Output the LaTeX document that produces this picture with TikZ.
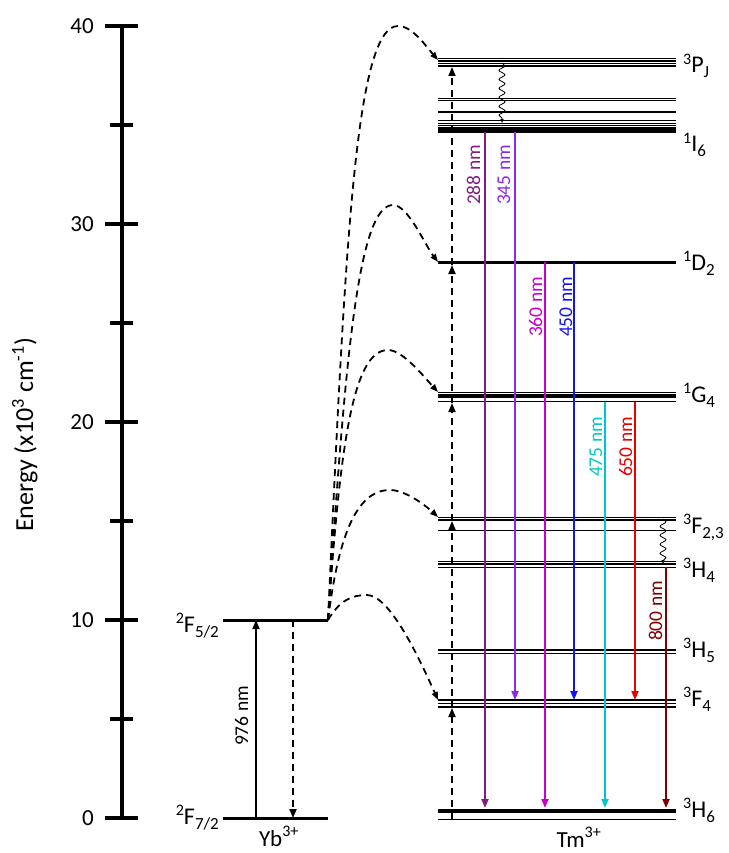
\documentclass[tikz,border=0pt]{standalone}
\usepackage{fontspec}
\setmainfont{Carlito}
\usetikzlibrary{arrows.meta,decorations.pathmorphing}
\definecolor{c288}{RGB}{128,30,128}
\definecolor{c345}{RGB}{140,40,235}
\definecolor{c360}{RGB}{200,0,200}
\definecolor{c450}{RGB}{20,20,240}
\definecolor{c475}{RGB}{0,200,200}
\definecolor{c650}{RGB}{230,0,0}
\definecolor{c800}{RGB}{128,0,0}
\newcommand{\supx}[1]{\raisebox{8.5pt}{\fontsize{16}{16}\selectfont #1}}
\newcommand{\subx}[1]{\raisebox{-5pt}{\fontsize{17}{17}\selectfont #1}}
\tikzset{
 axisline/.style={line width=4pt},
 lev/.style={line width=1.1pt},
 ybl/.style={line width=3pt},
 em/.style={line width=2pt,-{Triangle[length=9pt,width=7pt]}},
 esa/.style={line width=1.8pt,dash pattern=on 7pt off 5pt,-{Triangle[length=9pt,width=7pt]}},
 et/.style={line width=1.8pt,dash pattern=on 7pt off 5pt,-{Triangle[length=8pt,width=6pt]}},
 wavy/.style={line width=0.8pt,decorate,decoration={snake,amplitude=3pt,segment length=9pt,post length=3pt},-{Triangle[length=4pt,width=3pt]}},
 wl/.style={font=\fontsize{19.5}{20}\selectfont,rotate=90,anchor=base,inner sep=0pt},
 lvl/.style={font=\fontsize{24}{24}\selectfont,anchor=base west,inner sep=0pt},
 ticklab/.style={font=\fontsize{23}{24}\selectfont,anchor=east,inner sep=0pt},
}
\begin{document}
\begin{tikzpicture}[x=1pt,y=-1pt]
\useasboundingbox (0,0) rectangle (728,853);
% ---------- axis ----------
\coordinate (axT) at (122,26);
\coordinate (axB) at (122,818);
\draw[axisline] (axT) -- (axB);
\foreach \v/\y in {40/26,30/224,20/422,10/620,0/818}{
  \draw[axisline] (105,\y) -- (138,\y);
  \node[ticklab] (t\v) at (94,\y) {\v};
}
\foreach \y in {125,323,521,719}{
  \draw[axisline] (110,\y) -- (133,\y);
}
\node[font=\fontsize{26}{27}\selectfont,rotate=90,anchor=base,inner sep=0pt] (elab) at (33,435) {Energy (x10\textsuperscript{3} cm\textsuperscript{-1})};
% ---------- Yb levels ----------
\coordinate (Yb5l) at (223,620); \coordinate (Yb5r) at (328,620);
\coordinate (Yb7l) at (223,818); \coordinate (Yb7r) at (328,818);
\draw[ybl] (Yb5l) -- (Yb5r);
\draw[ybl] (Yb7l) -- (Yb7r);
\node[lvl,anchor=base east] (lYb5) at (219,632) {\supx{2}F\subx{5/2}};
\node[lvl,anchor=base east] (lYb7) at (219,824) {\supx{2}F\subx{7/2}};
\node[font=\fontsize{23}{24}\selectfont,anchor=base,inner sep=0pt] (Yb) at (279,846) {Yb\textsuperscript{3+}};
\coordinate (xa) at (256,0); \coordinate (xb) at (293,0);
\draw[line width=1.8pt,-{Triangle[length=9pt,width=7pt]}] (xa |- Yb7l) -- (xa |- Yb5l);
\draw[esa] (xb |- Yb5l) -- (xb |- Yb7l);
\node[wl] (l976) at (248,716) {976 nm};
% ---------- Tm levels ----------
\foreach \y in {58.8,61,63.2,66, 98.3,100.7,112, 120.7,123.3,125.7,128,130,132, 392.7,395,397,401.7, 517.5,520,530.7, 561.7,564,567.3, 650,653.5, 700,703.3,707, 819.3}{
  \draw[lev] (438,\y) -- (676,\y);
}
\draw[line width=3pt] (438,262.7) -- (676,262.7);
\draw[line width=4pt] (438,810.7) -- (676,810.7);
\coordinate (PJ) at (438,59);
\coordinate (I6) at (438,132);
\coordinate (D2) at (438,262);
\coordinate (G4) at (438,392);
\coordinate (G4b) at (438,402);
\coordinate (F23) at (438,517);
\coordinate (H4b) at (438,567);
\coordinate (F4) at (438,700);
\coordinate (H6) at (438,808);
\node[lvl] (lPJ) at (683,73) {\supx{3}P\subx{J}};
\node[lvl] (lI6) at (683,152) {\supx{1}I\subx{6}};
\node[lvl] (lD2) at (683,270) {\supx{1}D\subx{2}};
\node[lvl] (lG4) at (683,402) {\supx{1}G\subx{4}};
\node[lvl] (lF23) at (683,533) {\supx{3}F\subx{2,3}};
\node[lvl] (lH4) at (683,577) {\supx{3}H\subx{4}};
\node[lvl] (lH5) at (683,657) {\supx{3}H\subx{5}};
\node[lvl] (lF4) at (683,706) {\supx{3}F\subx{4}};
\node[lvl] (lH6) at (683,817) {\supx{3}H\subx{6}};
\node[font=\fontsize{23}{24}\selectfont,anchor=base,inner sep=0pt] (Tm) at (579,847) {Tm\textsuperscript{3+}};
% ---------- ESA dashed arrows ----------
\coordinate (s0) at (452,819);
\coordinate (s1) at (452,708);
\coordinate (s2) at (452,521);
\coordinate (s3) at (452,403);
\coordinate (s4) at (452,265);
\coordinate (s5) at (452,67);
\draw[esa] (s0) -- (s1);
\draw[esa] (s1) -- (s2);
\draw[esa] (s2) -- (s3);
\draw[esa] (s3) -- (s4);
\draw[esa] (s4) -- (s5);
% ---------- energy transfer curves ----------
\coordinate (p1) at (398,26);
\coordinate (p2) at (393,205);
\coordinate (p3) at (388,350);
\coordinate (p4) at (390,490);
\coordinate (p5) at (367,595);
\coordinate (e1) at (438,60);
\coordinate (e2) at (438,262);
\coordinate (e3) at (438,392);
\coordinate (e4) at (438,517);
\coordinate (e5) at (438,700);
\draw[et] (Yb5r) .. controls (345,250) and (355,26) .. (p1) .. controls (412,26) and (425,45) .. (e1);
\draw[et] (Yb5r) .. controls (345,360) and (358,205) .. (p2) .. controls (408,205) and (425,245) .. (e2);
\draw[et] (Yb5r) .. controls (340,450) and (352,350) .. (p3) .. controls (403,350) and (425,378) .. (e3);
\draw[et] (Yb5r) .. controls (338,540) and (355,490) .. (p4) .. controls (405,490) and (425,505) .. (e4);
\draw[et] (Yb5r) .. controls (340,600) and (352,595) .. (p5) .. controls (390,595) and (420,660) .. (e5);
% ---------- wavy relaxations ----------
\coordinate (w1a) at (502,63); \coordinate (w1b) at (502,123);
\coordinate (w2a) at (663,519); \coordinate (w2b) at (663,564);
\draw[wavy] (w1a) -- (w1b);
\draw[wavy] (w2a) -- (w2b);
% ---------- emissions ----------
\coordinate (x288) at (485,0);
\coordinate (x345) at (515,0);
\coordinate (x360) at (545,0);
\coordinate (x450) at (574,0);
\coordinate (x475) at (605,0);
\coordinate (x650) at (635,0);
\coordinate (x800) at (666,0);
\draw[em,color=c288] (x288 |- I6) -- (x288 |- H6);
\draw[em,color=c345] (x345 |- I6) -- (x345 |- F4);
\draw[em,color=c360] (x360 |- D2) -- (x360 |- H6);
\draw[em,color=c450] (x450 |- D2) -- (x450 |- F4);
\draw[em,color=c475] (x475 |- G4b) -- (x475 |- H6);
\draw[em,color=c650] (x650 |- G4b) -- (x650 |- F4);
\draw[em,color=c800] (x800 |- H4b) -- (x800 |- H6);
\node[wl,text=c288] (l288) at (480,175) {288 nm};
\node[wl,text=c345] (l345) at (510,175) {345 nm};
\node[wl,text=c360] (l360) at (542,307) {360 nm};
\node[wl,text=c450] (l450) at (572,307) {450 nm};
\node[wl,text=c475] (l475) at (602,447) {475 nm};
\node[wl,text=c650] (l650) at (632,447) {650 nm};
\node[wl,text=c800] (l800) at (662,611) {800 nm};
\end{tikzpicture}
\end{document}
